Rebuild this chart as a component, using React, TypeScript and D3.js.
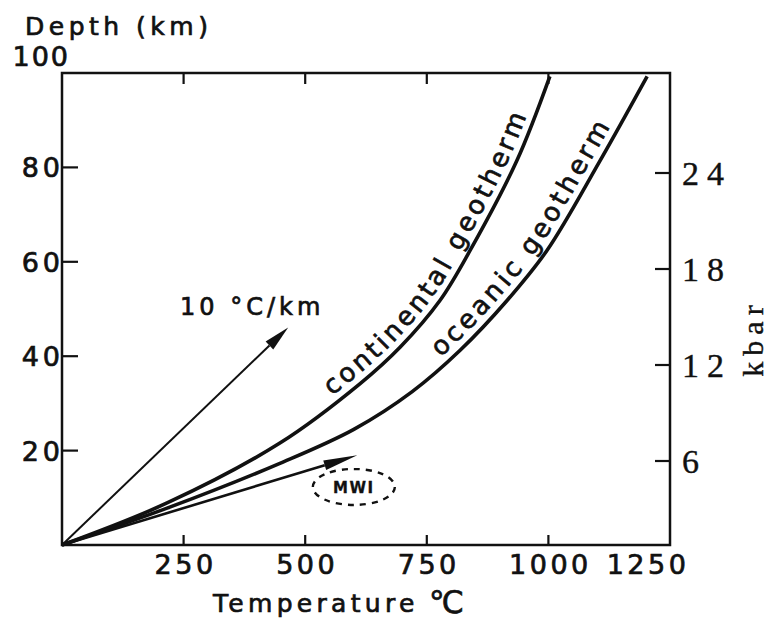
import * as d3 from "d3";
import { useRef, useEffect } from "react";

// temperature (°C) and depth (km)
const continentalTemp = [0, 216, 448, 613, 695, 777, 839, 935, 1003];
const continentalDepth = [0, 8.9, 21.6, 34.2, 41.9, 51.8, 62.4, 81.4, 99.3];
const oceanicTemp = [0, 216, 448, 600, 720, 818, 915, 997, 1106, 1203];
const oceanicDepth = [0, 7.8, 17.3, 24.5, 32.5, 41.2, 51.8, 62.4, 81.4, 99.3];

// 10 °C/km reference arrow and the MWI arrow (start, end)
const gradientArrow = [[0, 0], [465, 46.1]];
const mwiArrow = [[0, 0], [607, 19]];
const mwiCenter = [600, 12.3];

const tempTicks = [250, 500, 750, 1000, 1250];
const depthTicks = [20, 40, 60, 80, 100];
const kbarTicks = [6, 12, 18, 24];

export default function App() {
  const svgRef = useRef(null);

  useEffect(() => {
    const svg = d3.select(svgRef.current);
    svg.selectAll("*").remove();

    const x = d3.scaleLinear().domain([0, 1250]).range([62, 670]);
    const y = d3.scaleLinear().domain([0, 100]).range([545, 73]);
    const kb = d3.scaleLinear().domain([0, 30]).range([557, 77]);

    const ink = "#111";
    const sans = "'DejaVu Sans', sans-serif";
    const serif = "'Liberation Serif', 'DejaVu Serif', serif";

    svg.append("rect").attr("width", 775).attr("height", 623).attr("fill", "white");

    // frame
    svg
      .append("rect")
      .attr("x", x(0))
      .attr("y", y(100))
      .attr("width", x(1250) - x(0))
      .attr("height", y(0) - y(100))
      .attr("fill", "none")
      .attr("stroke", ink)
      .attr("stroke-width", 2.5);

    const ticks = svg.append("g").attr("stroke", ink).attr("stroke-width", 2.2);
    depthTicks.filter(d => d < 100).forEach(d => {
      ticks.append("line").attr("x1", x(0)).attr("x2", x(0) + 16).attr("y1", y(d)).attr("y2", y(d));
    });
    tempTicks.filter(d => d < 1250).forEach(d => {
      ticks.append("line").attr("x1", x(d)).attr("x2", x(d)).attr("y1", y(0)).attr("y2", y(0) - 10);
      ticks.append("line").attr("x1", x(d)).attr("x2", x(d)).attr("y1", y(100)).attr("y2", y(100) + 11);
    });
    kbarTicks.forEach(d => {
      ticks.append("line").attr("x1", x(1250) - 15).attr("x2", x(1250)).attr("y1", kb(d)).attr("y2", kb(d));
    });

    // tick labels (scanned lettering is heavy, so give the glyphs a thin outline)
    const labels = svg
      .append("g")
      .attr("fill", ink)
      .attr("stroke", ink)
      .attr("stroke-width", 0.7)
      .attr("font-family", sans);
    depthTicks.forEach(d => {
      labels
        .append("text")
        .attr("x", d === 100 ? x(0) + 8 : x(0) + 2)
        .attr("y", d === 100 ? y(100) - 7 : y(d) + 10)
        .attr("text-anchor", "end")
        .attr("font-size", 27)
        .attr("letter-spacing", d === 100 ? 2 : 4)
        .text(d);
    });
    tempTicks.forEach(d => {
      labels
        .append("text")
        .attr("x", x(d) + 2 + (d === 1250 ? -24 : 0))
        .attr("y", y(0) + 29)
        .attr("text-anchor", "middle")
        .attr("font-size", 27)
        .attr("letter-spacing", 3.5)
        .text(d);
    });
    kbarTicks.forEach(d => {
      labels
        .append("text")
        .attr("x", x(1250) + 12)
        .attr("y", kb(d) + 12)
        .attr("font-family", serif)
        .attr("font-size", 34)
        .attr("stroke-width", 0.4)
        .attr("letter-spacing", 8)
        .text(d);
    });

    // axis titles
    labels
      .append("text")
      .attr("x", 25)
      .attr("y", 35)
      .attr("font-size", 25)
      .attr("letter-spacing", 4.5)
      .text("Depth (km)");
    labels
      .append("text")
      .attr("x", 213)
      .attr("y", 612)
      .attr("font-size", 25)
      .attr("letter-spacing", 4.3)
      .text("Temperature");
    labels
      .append("text")
      .attr("x", 429)
      .attr("y", 613)
      .attr("font-size", 31)
      .text("\u2103");
    labels
      .append("text")
      .attr("transform", `translate(763,338) rotate(-90)`)
      .attr("text-anchor", "middle")
      .attr("font-family", serif)
      .attr("font-size", 30)
      .attr("stroke-width", 0.4)
      .attr("letter-spacing", 6)
      .text("kbar");

    // geotherms
    const line = d3
      .line()
      .x(d => x(d[0]))
      .y(d => y(d[1]))
      .curve(d3.curveCatmullRom.alpha(0.5));

    const curves = [
      { id: "cont", temp: continentalTemp, depth: continentalDepth, label: "continental geotherm", offset: 311, spacing: 3.6 },
      { id: "ocean", temp: oceanicTemp, depth: oceanicDepth, label: "oceanic geotherm", offset: 428, spacing: 3.7 }
    ];
    curves.forEach(c => {
      svg
        .append("path")
        .attr("id", c.id)
        .attr("d", line(c.temp.map((t, i) => [t, c.depth[i]])))
        .attr("fill", "none")
        .attr("stroke", ink)
        .attr("stroke-width", 3.6);
      svg
        .append("text")
        .attr("font-family", sans)
        .attr("font-size", 26)
        .attr("letter-spacing", c.spacing)
        .attr("fill", ink)
        .attr("stroke", ink)
        .attr("stroke-width", 0.7)
        .attr("dy", -8)
        .append("textPath")
        .attr("href", `#${c.id}`)
        .attr("startOffset", c.offset)
        .text(c.label);
    });

    // arrows
    const arrow = (pts, width, headLen, headHalf) => {
      const [x0, y0] = [x(pts[0][0]), y(pts[0][1])];
      const [x1, y1] = [x(pts[1][0]), y(pts[1][1])];
      const len = Math.hypot(x1 - x0, y1 - y0);
      const ux = (x1 - x0) / len, uy = (y1 - y0) / len;
      const bx = x1 - ux * headLen, by = y1 - uy * headLen;
      svg
        .append("line")
        .attr("x1", x0).attr("y1", y0).attr("x2", bx).attr("y2", by)
        .attr("stroke", ink).attr("stroke-width", width);
      svg
        .append("polygon")
        .attr("points", [
          [x1, y1],
          [bx - uy * headHalf, by + ux * headHalf],
          [bx + uy * headHalf, by - ux * headHalf]
        ].map(p => p.join(",")).join(" "))
        .attr("fill", ink);
    };
    arrow(gradientArrow, 2, 26, 5.5);
    arrow(mwiArrow, 2.6, 34, 5);

    labels
      .append("text")
      .attr("x", 180)
      .attr("y", 315)
      .attr("font-size", 24)
      .attr("letter-spacing", 4)
      .text("10 °C/km");

    // MWI field
    svg
      .append("ellipse")
      .attr("cx", x(mwiCenter[0]))
      .attr("cy", y(mwiCenter[1]))
      .attr("rx", 41)
      .attr("ry", 18)
      .attr("fill", "none")
      .attr("stroke", ink)
      .attr("stroke-width", 2.4)
      .attr("stroke-dasharray", "6 6");
    labels
      .append("text")
      .attr("x", x(mwiCenter[0]))
      .attr("y", y(mwiCenter[1]) + 6)
      .attr("text-anchor", "middle")
      .attr("font-size", 15)
      .attr("font-weight", "bold")
      .attr("stroke-width", 0.3)
      .attr("letter-spacing", 1.5)
      .text("MWI");
  }, []);

  return (
    <svg
      ref={svgRef}
      width={775}
      height={623}
      style={{ position: "absolute", left: 0, top: 0, display: "block" }}
    />
  );
}
